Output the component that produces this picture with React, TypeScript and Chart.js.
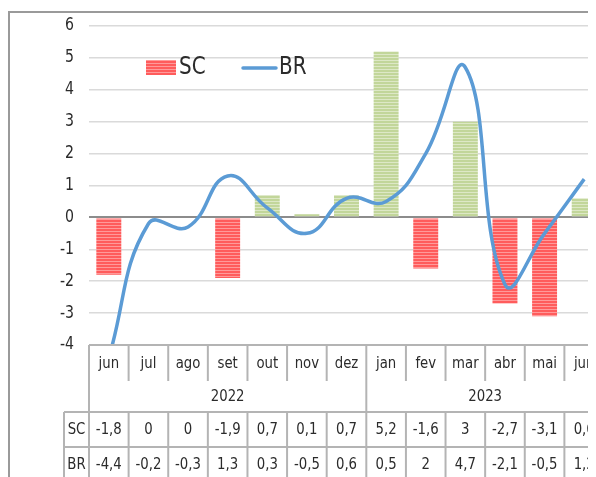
import React, { useEffect, useRef } from "react";
import { Chart, registerables } from "chart.js";

Chart.register(...registerables);

const categories = ["jun", "jul", "ago", "set", "out", "nov", "dez", "jan", "fev", "mar", "abr", "mai", "jun"];
const scValues = [-1.8, 0, 0, -1.9, 0.7, 0.1, 0.7, 5.2, -1.6, 3, -2.7, -3.1, 0.6];
const brValues = [-4.4, -0.2, -0.3, 1.3, 0.3, -0.5, 0.6, 0.5, 2, 4.7, -2.1, -0.5, 1.2];
const yearLabels = ["2022", "2023"];
const yearSpans = [7, 6];
const seriesLabels = ["SC", "BR"];

const FONT = "'DejaVu Sans', sans-serif";
const TEXT = "#2b2b2b";
const SX = 0.83;
const fmt = (v: number) => String(v).replace(".", ",");

function makePattern(ctx: CanvasRenderingContext2D, base: string, stripe: string) {
  const c = document.createElement("canvas");
  c.width = 4;
  c.height = 3;
  const x = c.getContext("2d")!;
  x.fillStyle = base;
  x.fillRect(0, 0, 4, 3);
  x.fillStyle = stripe;
  x.fillRect(0, 2, 4, 1);
  return ctx.createPattern(c, "repeat")!;
}

function drawText(c: CanvasRenderingContext2D, t: string, x: number, y: number, align: CanvasTextAlign) {
  c.save();
  c.translate(x, y);
  c.scale(SX, 1);
  c.textAlign = align;
  c.textBaseline = "middle";
  c.fillText(t, 0, 0);
  c.restore();
}

export default function App() {
  const ref = useRef<HTMLCanvasElement>(null);

  useEffect(() => {
    const canvas = ref.current!;
    const ctx = canvas.getContext("2d")!;
    const red = makePattern(ctx, "#ff5c5c", "#ff9a9a");
    const green = makePattern(ctx, "#c2d69a", "#dde8c6");

    const tablePlugin = {
      id: "tableAndLegend",
      afterDraw(chart: any) {
        const c = chart.ctx as CanvasRenderingContext2D;
        const area = chart.chartArea;
        const xs = chart.scales.x;
        const ys = chart.scales.y;
        const n = categories.length;
        const cw = xs.getPixelForValue(1) - xs.getPixelForValue(0);
        const bound = (i: number) => xs.getPixelForValue(i) - cw / 2;
        const top = area.bottom;
        const monthBottom = top + 36;
        const yearBottom = top + 67;
        const scBottom = top + 102;
        const brBottom = top + 140;
        const labelLeft = area.left - 25;
        const right = bound(n);

        c.save();
        c.strokeStyle = "#b4b4b4";
        c.lineWidth = 2;
        const line = (x1: number, y1: number, x2: number, y2: number) => {
          c.beginPath();
          c.moveTo(x1, y1);
          c.lineTo(x2, y2);
          c.stroke();
        };
        line(area.left, top, right, top);
        line(labelLeft, yearBottom, right, yearBottom);
        line(labelLeft, scBottom, right, scBottom);
        line(area.left, top, area.left, brBottom);
        line(labelLeft, yearBottom, labelLeft, brBottom);
        const yearBounds: number[] = [];
        let acc = 0;
        yearSpans.forEach((s) => {
          acc += s;
          yearBounds.push(acc);
        });
        for (let i = 1; i <= n; i++) {
          const x = bound(i);
          const isYear = yearBounds.includes(i);
          line(x, top, x, isYear ? yearBottom : monthBottom);
          line(x, yearBottom, x, brBottom);
        }

        c.fillStyle = TEXT;
        // y tick labels
        c.font = `17px ${FONT}`;
        ys.ticks.forEach((t: any) => {
          drawText(c, String(t.value), area.left - 15, ys.getPixelForValue(t.value), "right");
        });

        c.font = `16px ${FONT}`;
        categories.forEach((cat, i) => {
          const cx = xs.getPixelForValue(i);
          drawText(c, cat, cx, top + 19, "center");
          drawText(c, fmt(scValues[i]), cx, top + 85, "center");
          drawText(c, fmt(brValues[i]), cx, top + 120, "center");
        });
        let start = 0;
        yearLabels.forEach((y, k) => {
          const x1 = bound(start);
          const x2 = bound(start + yearSpans[k]);
          drawText(c, y, (x1 + x2) / 2, top + 52, "center");
          start += yearSpans[k];
        });
        drawText(c, seriesLabels[0], (labelLeft + area.left) / 2, top + 85, "center");
        drawText(c, seriesLabels[1], (labelLeft + area.left) / 2, top + 120, "center");

        // legend
        const lx = area.left + 57;
        const ly = area.top + 42;
        c.fillStyle = red;
        c.fillRect(lx, ly - 8, 30, 15);
        c.fillStyle = TEXT;
        c.font = `24px ${FONT}`;
        drawText(c, seriesLabels[0], lx + 33, ly, "left");
        c.strokeStyle = "#5b9bd5";
        c.lineWidth = 3.5;
        c.lineCap = "round";
        line(lx + 97, ly, lx + 130, ly);
        drawText(c, seriesLabels[1], lx + 133, ly, "left");
        c.restore();
      },
    };

    const chart = new Chart(canvas, {
      type: "bar",
      data: {
        labels: categories,
        datasets: [
          {
            type: "line",
            label: seriesLabels[1],
            data: brValues,
            borderColor: "#5b9bd5",
            borderWidth: 3.5,
            pointRadius: 0,
            tension: 0.45,
            fill: false,
            order: 0,
          } as any,
          {
            type: "bar",
            label: seriesLabels[0],
            data: scValues,
            backgroundColor: (c: any) => (c.raw < 0 ? red : green),
            barPercentage: 0.63,
            categoryPercentage: 1,
            order: 1,
          },
        ],
      },
      options: {
        responsive: false,
        animation: false,
        devicePixelRatio: 1,
        layout: { padding: { top: 16, right: 24, bottom: 134, left: 0 } },
        plugins: { legend: { display: false }, tooltip: { enabled: false } },
        scales: {
          x: { display: false },
          y: {
            min: -4,
            max: 6,
            ticks: {
              stepSize: 1,
              display: false,
            },
            border: { display: false },
            grid: {
              drawTicks: false,
              color: (c: any) => (c.tick && c.tick.value === 0 ? "#8c8c8c" : "#dadada"),
              lineWidth: (c: any) => (c.tick && c.tick.value === 0 ? 2 : 1.5),
            },
            afterFit: (s: any) => {
              s.width = 81;
            },
          },
        },
      },
      plugins: [tablePlugin],
    });
    return () => chart.destroy();
  }, []);

  return (
    <div style={{ position: "relative", width: 588, height: 469, overflow: "hidden", background: "#fff" }}>
      <div
        style={{
          position: "absolute",
          top: 3,
          left: 0,
          width: 700,
          height: 600,
          border: "2px solid #9a9a9a",
          boxSizing: "border-box",
        }}
      />
      <canvas ref={ref} width={620} height={469} style={{ position: "absolute", left: 0, top: 2 }} />
    </div>
  );
}
